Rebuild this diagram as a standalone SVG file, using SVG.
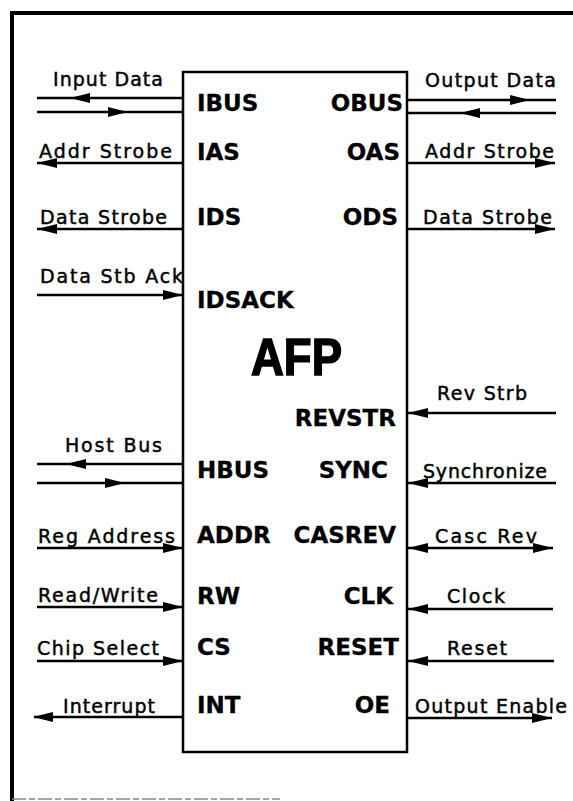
<svg xmlns="http://www.w3.org/2000/svg" xmlns:xlink="http://www.w3.org/1999/xlink" width="573" height="801" viewBox="0 0 573 801">
<style>
.frame{stroke:#000;stroke-width:4;fill:none}
.box{stroke:#000;stroke-width:2.5;fill:#fff}
.ln{stroke:#000;stroke-width:2.3;fill:none}
.lbl{font-family:"DejaVu Sans","Liberation Sans",sans-serif;font-size:19px;fill:#000;stroke:#000;stroke-width:0.45}
.pin{font-family:"DejaVu Sans","Liberation Sans",sans-serif;font-size:23px;font-weight:bold;fill:#000;stroke:#000;stroke-width:0.3}
.title{font-family:"Liberation Sans",Arial,sans-serif;font-size:52px;font-weight:bold;fill:#000;stroke:#000;stroke-width:1.6}
</style>
<defs>
<path id="ah" d="M0,0 L-20,-5 L-20,5 Z" fill="#000"/>
</defs>
<rect width="573" height="801" fill="#fff"/>
<g id="frame">
<line class="frame" x1="10" y1="13" x2="573" y2="13"/>
<line class="frame" x1="12" y1="11" x2="12" y2="801"/>
<line x1="12" y1="799" x2="280" y2="799" stroke="#888" stroke-width="1.5" stroke-dasharray="14,3,6,3"/>
</g>
<g id="afp">
<rect class="box" x="183" y="72" width="224" height="680"/>
<text class="title" x="251" y="375" textLength="91" lengthAdjust="spacingAndGlyphs">AFP</text>
<text class="pin" x="197" y="111">IBUS</text>
<text class="pin" x="197" y="160">IAS</text>
<text class="pin" x="197" y="225">IDS</text>
<text class="pin" x="197" y="308">IDSACK</text>
<text class="pin" x="197" y="478">HBUS</text>
<text class="pin" x="197" y="543">ADDR</text>
<text class="pin" x="197" y="604">RW</text>
<text class="pin" x="197" y="655">CS</text>
<text class="pin" x="197" y="713">INT</text>
<text class="pin" x="403" y="111" text-anchor="end">OBUS</text>
<text class="pin" x="400" y="160" text-anchor="end">OAS</text>
<text class="pin" x="398" y="225" text-anchor="end">ODS</text>
<text class="pin" x="396" y="426" text-anchor="end">REVSTR</text>
<text class="pin" x="388" y="478" text-anchor="end">SYNC</text>
<text class="pin" x="396" y="543" text-anchor="end">CASREV</text>
<text class="pin" x="393" y="604" text-anchor="end">CLK</text>
<text class="pin" x="399" y="655" text-anchor="end">RESET</text>
<text class="pin" x="390" y="713" text-anchor="end">OE</text>
</g>
<g id="connectors">
<line class="ln" x1="37" y1="98" x2="183" y2="98"/>
<use xlink:href="#ah" transform="translate(70,98) rotate(180)"/>
<line class="ln" x1="37" y1="112" x2="183" y2="112"/>
<use xlink:href="#ah" transform="translate(128,112)"/>
<line class="ln" x1="37" y1="163" x2="183" y2="163"/>
<use xlink:href="#ah" transform="translate(37,163) rotate(180)"/>
<line class="ln" x1="37" y1="229" x2="183" y2="229"/>
<use xlink:href="#ah" transform="translate(37,229) rotate(180)"/>
<line class="ln" x1="37" y1="295" x2="183" y2="295"/>
<use xlink:href="#ah" transform="translate(183,295)"/>
<line class="ln" x1="37" y1="464" x2="183" y2="464"/>
<use xlink:href="#ah" transform="translate(66,464) rotate(180)"/>
<line class="ln" x1="37" y1="483" x2="183" y2="483"/>
<use xlink:href="#ah" transform="translate(125,483)"/>
<line class="ln" x1="37" y1="548" x2="183" y2="548"/>
<use xlink:href="#ah" transform="translate(183,548)"/>
<line class="ln" x1="37" y1="607" x2="183" y2="607"/>
<use xlink:href="#ah" transform="translate(183,607)"/>
<line class="ln" x1="37" y1="661" x2="183" y2="661"/>
<use xlink:href="#ah" transform="translate(183,661)"/>
<line class="ln" x1="34" y1="717" x2="183" y2="717"/>
<use xlink:href="#ah" transform="translate(33,717) rotate(180)"/>
<line class="ln" x1="407" y1="100" x2="556" y2="100"/>
<use xlink:href="#ah" transform="translate(530,100)"/>
<line class="ln" x1="407" y1="113" x2="556" y2="113"/>
<use xlink:href="#ah" transform="translate(460,113) rotate(180)"/>
<line class="ln" x1="407" y1="163" x2="555" y2="163"/>
<use xlink:href="#ah" transform="translate(555,163)"/>
<line class="ln" x1="407" y1="229" x2="555" y2="229"/>
<use xlink:href="#ah" transform="translate(555,229)"/>
<line class="ln" x1="407" y1="413" x2="556" y2="413"/>
<use xlink:href="#ah" transform="translate(408,413) rotate(180)"/>
<line class="ln" x1="407" y1="483" x2="556" y2="483"/>
<use xlink:href="#ah" transform="translate(408,483) rotate(180)"/>
<line class="ln" x1="407" y1="548" x2="553" y2="548"/>
<use xlink:href="#ah" transform="translate(408,548) rotate(180)"/>
<use xlink:href="#ah" transform="translate(553,548)"/>
<line class="ln" x1="407" y1="609" x2="553" y2="609"/>
<use xlink:href="#ah" transform="translate(408,609) rotate(180)"/>
<line class="ln" x1="407" y1="661" x2="554" y2="661"/>
<use xlink:href="#ah" transform="translate(408,661) rotate(180)"/>
<line class="ln" x1="407" y1="718" x2="552" y2="718"/>
<use xlink:href="#ah" transform="translate(552,718)"/>
</g>
<g id="labels">
<text class="lbl" x="53" y="86" textLength="110">Input Data</text>
<text class="lbl" x="39" y="158" textLength="133">Addr Strobe</text>
<text class="lbl" x="40" y="224" textLength="127">Data Strobe</text>
<text class="lbl" x="40" y="283" textLength="143">Data Stb Ack</text>
<text class="lbl" x="65" y="452" textLength="97">Host Bus</text>
<text class="lbl" x="38" y="543" textLength="137">Reg Address</text>
<text class="lbl" x="38" y="602" textLength="120">Read/Write</text>
<text class="lbl" x="37" y="655" textLength="122">Chip Select</text>
<text class="lbl" x="63" y="713" textLength="92">Interrupt</text>
<text class="lbl" x="425" y="87" textLength="131">Output Data</text>
<text class="lbl" x="425" y="158" textLength="129">Addr Strobe</text>
<text class="lbl" x="423" y="224" textLength="129">Data Strobe</text>
<text class="lbl" x="437" y="400" textLength="90">Rev Strb</text>
<text class="lbl" x="423" y="478" textLength="124">Synchronize</text>
<text class="lbl" x="435" y="543" textLength="102">Casc Rev</text>
<text class="lbl" x="447" y="603" textLength="58">Clock</text>
<text class="lbl" x="447" y="655" textLength="60">Reset</text>
<text class="lbl" x="415" y="713" textLength="152">Output Enable</text>
</g>
</svg>
